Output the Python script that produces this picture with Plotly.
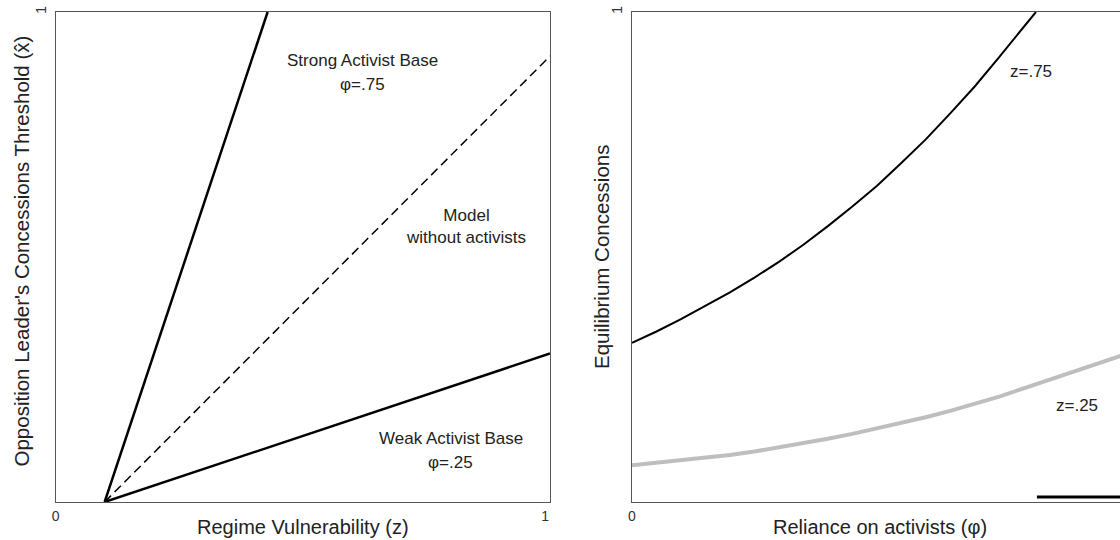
import plotly.graph_objects as go

# ---------------- data ----------------
# Left panel: threshold lines vs regime vulnerability z
strong_z = [0.1, 0.433]
strong_v = [0.0, 1.0]
model_z = [0.1, 1.01]
model_v = [0.0, 0.91]
weak_z = [0.1, 1.01]
weak_v = [0.0, 0.303]

# Right panel: equilibrium concessions vs reliance on activists phi
phi_hi = [0.0, 0.05, 0.10, 0.15, 0.20, 0.25, 0.30, 0.35, 0.40, 0.45, 0.50,
          0.55, 0.60, 0.65, 0.70, 0.75, 0.80, 0.825]
conc_hi = [0.325, 0.348, 0.373, 0.400, 0.428, 0.458, 0.490, 0.525, 0.563, 0.603, 0.645,
           0.692, 0.740, 0.793, 0.848, 0.908, 0.970, 1.0]
phi_lo = [0.0, 0.05, 0.10, 0.15, 0.20, 0.25, 0.30, 0.35, 0.40, 0.45, 0.50,
          0.55, 0.60, 0.65, 0.70, 0.75, 0.80, 0.85, 0.90, 0.95, 1.0]
conc_lo = [0.075, 0.080, 0.085, 0.090, 0.096, 0.103, 0.111, 0.119, 0.129, 0.139, 0.150,
           0.161, 0.173, 0.186, 0.200, 0.215, 0.232, 0.249, 0.266, 0.283, 0.299]
seg_phi = [0.827, 1.0]
seg_v = [0.01, 0.01]

left_ticks = [0, 1]
left_ticktext = ["0", "1"]

W, H = 1120, 540
FONT = "Liberation Sans, Arial, sans-serif"
TXT = "#222222"

def px(x):
    return x / W

def py(y):
    return 1 - y / H

fig = go.Figure()

# left panel
fig.add_trace(go.Scatter(x=strong_z, y=strong_v, mode="lines",
                         line=dict(color="black", width=2.5), xaxis="x", yaxis="y"))
fig.add_trace(go.Scatter(x=model_z, y=model_v, mode="lines",
                         line=dict(color="black", width=1.5, dash="9px,5px"), xaxis="x", yaxis="y"))
fig.add_trace(go.Scatter(x=weak_z, y=weak_v, mode="lines",
                         line=dict(color="black", width=2.5), xaxis="x", yaxis="y"))

# right panel
fig.add_trace(go.Scatter(x=phi_lo, y=conc_lo, mode="lines",
                         line=dict(color="#BEBEBE", width=4), xaxis="x2", yaxis="y2"))
fig.add_trace(go.Scatter(x=phi_hi, y=conc_hi, mode="lines",
                         line=dict(color="black", width=2), xaxis="x2", yaxis="y2"))
fig.add_trace(go.Scatter(x=seg_phi, y=seg_v, mode="lines",
                         line=dict(color="black", width=3), xaxis="x2", yaxis="y2"))

ydom = [py(502), py(12)]
axis_common = dict(showgrid=False, zeroline=False, showline=True, linecolor="#555555",
                   linewidth=1, ticks="outside", tickcolor="rgba(0,0,0,0)",
                   tickfont=dict(family=FONT, size=14, color="#333333"))

right_max = (W - 632) / 489.6

fig.update_layout(
    width=W, height=H, template="none", showlegend=False,
    margin=dict(l=0, r=0, t=0, b=0),
    paper_bgcolor="white", plot_bgcolor="white",
    xaxis=dict(domain=[px(55.7), px(550)], range=[0, 1.01], tickvals=left_ticks,
               ticktext=left_ticktext, ticklen=1, mirror=True, anchor="y", **axis_common),
    yaxis=dict(domain=ydom, range=[0, 1], tickvals=[1], ticktext=["1"], tickangle=-90,
               ticklen=3, mirror=True, anchor="x", **axis_common),
    xaxis2=dict(domain=[px(632), 1.0], range=[0, right_max], tickvals=[0], ticktext=["0"],
                ticklen=1, mirror=True, anchor="y2", **axis_common),
    yaxis2=dict(domain=ydom, range=[0, 1], tickvals=[1], ticktext=["1"], tickangle=-90,
                ticklen=3, mirror=False, anchor="x2", **axis_common),
)

def note(text, x, y, xref, yref, size=17, angle=0):
    fig.add_annotation(text=text, x=x, y=y, xref=xref, yref=yref, showarrow=False,
                       textangle=angle, xanchor="center", yanchor="middle",
                       font=dict(family=FONT, size=size, color=TXT))

# in-plot labels, left
note("Strong Activist Base", 0.626, 0.902, "x", "y")
note("\u03c6=.75", 0.626, 0.853, "x", "y")
note("Model<br>without activists", 0.838, 0.5625, "x", "y")
note("Weak Activist Base", 0.807, 0.129, "x", "y")
note("\u03c6=.25", 0.807, 0.080, "x", "y")

# in-plot labels, right
note("z=.75", 0.815, 0.878, "x2", "y2")
note("z=.25", 0.909, 0.196, "x2", "y2")

# axis titles
note("Regime Vulnerability (z)", px(303), py(527), "paper", "paper", size=20)
note("Opposition Leader's Concessions Threshold (x\u0302)", px(21), py(251.5), "paper", "paper", size=20.5, angle=-90)
note("Reliance on activists (\u03c6)", px(880), py(527), "paper", "paper", size=20)
note("Equilibrium Concessions", px(602), py(257), "paper", "paper", size=20.5, angle=-90)

fig.write_html("out.html")
